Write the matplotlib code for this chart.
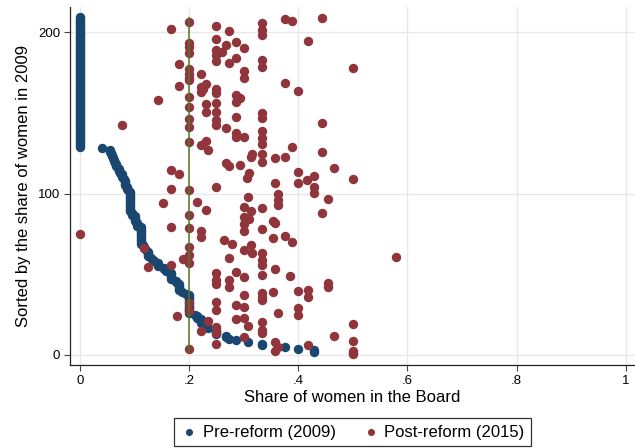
import numpy as np
import matplotlib.pyplot as plt

plt.rcParams['font.family'] = ['Liberation Sans', 'DejaVu Sans']

# ---- data ----
# 2009 share of women per firm, firm rank 1 (highest share) upwards
pre_share_nonzero = [
    0.5, 0.4286, 0.4286, 0.4, 0.375, 0.3333, 0.3333, 0.3077, 0.2857, 0.2727,
    0.2667, 0.2667, 0.25, 0.25, 0.25, 0.25, 0.2353, 0.2308, 0.2308, 0.2222,
    0.2222, 0.2222, 0.2143, 0.2143, 0.2105, 0.2, 0.2, 0.2, 0.2, 0.2,
    0.2, 0.2, 0.2, 0.2, 0.2, 0.2, 0.2, 0.1944, 0.1875, 0.1818,
    0.1818, 0.1818, 0.1818, 0.1818, 0.1765, 0.1765, 0.1667, 0.1667, 0.1667, 0.1667,
    0.1667, 0.1579, 0.1538, 0.1538, 0.1429, 0.1429, 0.1429, 0.1364, 0.1333, 0.1304,
    0.125, 0.125, 0.125, 0.125, 0.1212, 0.1176, 0.1176, 0.1154, 0.1111, 0.1111,
    0.1111, 0.1111, 0.1111, 0.1111, 0.1111, 0.1111, 0.1111, 0.1111, 0.1111, 0.1053,
    0.1053, 0.1053, 0.1, 0.1, 0.1, 0.1, 0.0952, 0.0952, 0.0909, 0.0909,
    0.0909, 0.0909, 0.0909, 0.0909, 0.0909, 0.0909, 0.0909, 0.0909, 0.0909, 0.0909,
    0.0909, 0.0882, 0.087, 0.0857, 0.0833, 0.0833, 0.0833, 0.0833, 0.08, 0.0769,
    0.0769, 0.0769, 0.0741, 0.0714, 0.0714, 0.069, 0.0667, 0.0667, 0.0645, 0.0625,
    0.0625, 0.0606, 0.0588, 0.0588, 0.0571, 0.0556, 0.0556, 0.04,
]
n_firms_no_women_2009 = 81

# 2015 share levels and the firm ranks found at each level
post_levels = [
    0.0, 0.077, 0.118, 0.125, 0.143, 0.153, 0.167, 0.177, 0.181, 0.188,
    0.2, 0.214, 0.222, 0.225, 0.231, 0.235, 0.25, 0.261, 0.264, 0.267,
    0.273, 0.278, 0.286, 0.293, 0.3, 0.306, 0.307, 0.309, 0.313, 0.316,
    0.333, 0.353, 0.354, 0.357, 0.362, 0.375, 0.385, 0.388, 0.389, 0.4,
    0.416, 0.417, 0.428, 0.444, 0.454, 0.466, 0.5, 0.579,
]
post_ranks = [
    [75], [142.7], [66], [54.3], [157.9], [93.9],
    [201.6, 114.6, 102.8, 79.5, 55.9], [24.3], [180, 166.8, 111.9], [59.4],
    [206, 193, 190.5, 187, 177, 174, 171.5, 170, 160, 153.5, 146, 141, 132,
     102, 86.7, 78.4, 67, 62, 57, 32, 27, 4],
    [94.9],
    [174, 166.1, 162.6, 130, 76.5, 72.9, 15],
    [164.5],
    [168.1, 155.2, 150.3, 132.7, 89.8],
    [127, 21],
    [203.9, 195.7, 188.9, 185.8, 182, 165, 162, 155.8, 150.7, 145.5, 142.4,
     103.8, 51, 46.4, 43.8, 33, 27.9, 17.5, 13.4, 6.8],
    [187.8], [71.2], [191.9, 140.8, 119],
    [200.8, 180.6, 117.2, 60, 46.4, 42.3],
    [68.7],
    [194, 183.7, 161.3, 156.8, 147.6, 137.3, 134.8, 51.6, 31, 22],
    [159, 117.9],
    [189.9, 175.9, 171.7, 134.8, 91.8, 85.3, 80.9, 76.8, 65, 48.1, 37.2, 30,
     22.7, 11],
    [109.4], [98, 18], [112.5, 84.2], [122.7, 89.3, 68.1], [124.5, 63.4],
    [205.3, 201.2, 198.1, 182.7, 178.5, 149.6, 147, 138.7, 134.6, 130.7, 124.5,
     119.7, 90.8, 78, 63, 58.8, 55.7, 49.5, 38.2, 36.1, 34, 20.6, 15.5, 13.8],
    [72.2, 38.8], [83],
    [121.8, 106.3, 81.5, 53.3, 8.3, 2.7],
    [100, 96, 92.9, 25.8, 5.2],
    [208, 168.7, 122.8, 73.9],
    [48.9], [129], [206.8, 69.8],
    [163.7, 113.5, 106.7, 39.8, 28.9, 24.8],
    [108.4], [194.6, 40.5, 36.1, 6],
    [110.8, 104.2, 100.5],
    [208.4, 143.8, 125.5, 87.7],
    [96.6, 44.4, 42.3],
    [116, 12],
    [177.5, 108.7, 19, 8.9, 2.2, 0.8],
    [60.9],
]

quota = 0.2
x_ticks = [0, 0.2, 0.4, 0.6, 0.8, 1]
x_tick_labels = ['0', '.2', '.4', '.6', '.8', '1']
y_ticks = [0, 100, 200]

NAVY = '#1a476f'
MAROON = '#90353b'
GREEN = '#55752f'

# ---- build series ----
pre_x = np.array(pre_share_nonzero + [0.0] * n_firms_no_women_2009)
pre_y = np.arange(1, len(pre_x) + 1)

post_x = np.concatenate([[lv] * len(r) for lv, r in zip(post_levels, post_ranks)])
post_y = np.concatenate(post_ranks)

# ---- plot ----
fig = plt.figure(figsize=(6.35, 4.48), dpi=100)
ax = fig.add_axes([70 / 635, 1 - 365 / 448, 565 / 635, 358 / 448])

ax.scatter(pre_x, pre_y, s=46, color=NAVY, linewidths=0, zorder=3,
           label='Pre-reform (2009)')
ax.scatter(post_x, post_y, s=46, color=MAROON, linewidths=0, zorder=4,
           label='Post-reform (2015)')
ax.vlines(quota, 1, 209, color=GREEN, linewidth=1.1, zorder=5)

ax.set_xlim(-0.0183, 1.017)
ax.set_ylim(-6.2, 215.5)
ax.set_xticks(x_ticks)
ax.set_xticklabels(x_tick_labels)
ax.set_yticks(y_ticks)
ax.grid(True, color='#e8e8e8', linewidth=1.0, zorder=0)
ax.set_axisbelow(True)

for side in ['top', 'right']:
    ax.spines[side].set_visible(False)
for side in ['left', 'bottom']:
    ax.spines[side].set_color('#222222')
    ax.spines[side].set_linewidth(0.9)
ax.tick_params(axis='both', length=4, width=0.8, color='#444444',
               labelsize=9.5, labelcolor='black', pad=3)

ax.set_xlabel('Share of women in the Board', fontsize=12, labelpad=2)
ax.set_ylabel('Sorted by the share of women in 2009', fontsize=12, labelpad=5)

leg = fig.legend(loc='center', bbox_to_anchor=(352.5 / 635, 1 - 432 / 448),
                 ncol=2, fontsize=12, frameon=True, fancybox=False,
                 markerscale=0.75, handletextpad=0.3, columnspacing=1.6,
                 borderpad=0.4, handlelength=1.0)
leg.get_frame().set_edgecolor('black')
leg.get_frame().set_linewidth(0.9)

fig.savefig('out.png', dpi=100)
